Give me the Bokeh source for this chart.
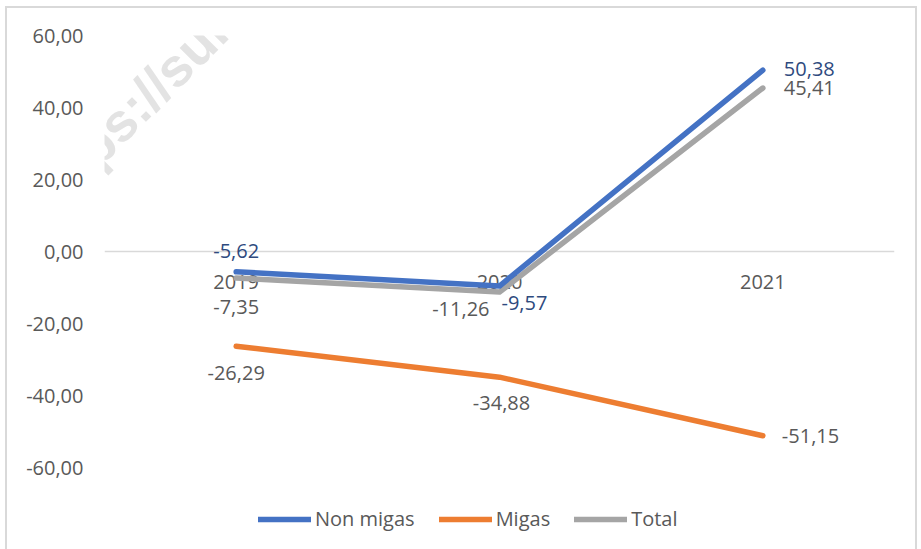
import math

from bokeh.core.properties import value
from bokeh.embed import file_html
from bokeh.models import (ColumnDataSource, FactorRange, FixedTicker, Label,
                          Legend, LegendItem, Range1d, Span)
from bokeh.plotting import figure
from bokeh.resources import INLINE

# Growth (%) per year
years = ["2019", "2020", "2021"]
non_migas = [-5.62, -9.57, 50.38]
migas = [-26.29, -34.88, -51.15]
total = [-7.35, -11.26, 45.41]
y_ticks = [-60, -40, -20, 0, 20, 40, 60]

BLUE = "#4472C4"
ORANGE = "#ED7D31"
GREY = "#A5A5A5"
TEXT = "#595959"
FONT = "Open Sans"


def fmt(v):
    return f"{v:.2f}".replace(".", ",")


# the frame runs down to the bottom edge so the legend can sit inside it
p = figure(
    width=912, height=543,
    x_range=FactorRange(*years, range_padding=0),
    y_range=Range1d(-83.3, 60),
    x_axis_location=None,
    output_backend="svg", toolbar_location=None,
    min_border_left=97, min_border_right=25,
    min_border_top=27, min_border_bottom=0,
)
p.styles = {"margin-left": "5px", "margin-top": "6px",
            "border": "2px solid #D9D9D9", "border-bottom": "none"}
p.outline_line_color = None
p.background_fill_color = None
p.border_fill_color = None
p.xgrid.visible = False
p.ygrid.visible = False

# watermark
p.add_layout(Label(
    x=-69, y=346, x_units="screen", y_units="screen",
    text="https://sulsel.bps.go.id", angle=math.radians(45),
    text_font="Liberation Sans", text_font_style="bold",
    text_font_size="54px", text_color="#E3E3E3",
    text_align="left", text_baseline="alphabetic", level="underlay",
))

# y axis: labels only
yax = p.yaxis[0]
yax.ticker = FixedTicker(ticks=y_ticks)
yax.major_label_overrides = {t: fmt(t) for t in y_ticks}
yax.axis_line_color = None
yax.major_tick_line_color = None
yax.minor_tick_line_color = None
yax.major_label_text_font = FONT
yax.major_label_text_font_size = "20px"
yax.major_label_text_color = TEXT
yax.major_label_standoff = 15

# horizontal category axis along zero
p.add_layout(Span(location=0, dimension="width",
                  line_color="#D9D9D9", line_width=1.5, level="underlay"))
p.text(x=years, y=[0] * len(years), text=years, y_offset=30,
       text_align="center", text_baseline="middle",
       text_font=value(FONT), text_font_size="20px", text_color=TEXT)

series = [
    ("Total", total, GREY),
    ("Migas", migas, ORANGE),
    ("Non migas", non_migas, BLUE),
]
renderers = {}
for name, vals, color in series:
    renderers[name] = p.line(years, vals, line_color=color, line_width=5.5,
                             line_cap="round", line_join="round")

# data labels: offsets (px, +y is down) and alignment per point
placement = {
    "Non migas": ([0, 2, 21], [-21, 17, -1], ["center", "left", "left"], "#2E4A7E"),
    "Total": ([0, -10, 21], [29, 17, 0], ["center", "right", "left"], TEXT),
    "Migas": ([0, 2, 19], [27, 26, 0], ["center", "center", "left"], TEXT),
}
for name, vals, _ in series:
    dx, dy, align, col = placement[name]
    src = ColumnDataSource(dict(x=years, y=vals, t=[fmt(v) for v in vals],
                                dx=dx, dy=dy, al=align))
    p.text("x", "y", text="t", source=src, x_offset="dx", y_offset="dy",
           text_align="al", text_baseline="middle",
           text_font=value(FONT), text_font_size="20px", text_color=col)

legend = Legend(
    items=[LegendItem(label=n, renderers=[renderers[n]])
           for n in ["Non migas", "Migas", "Total"]],
    location=(154, 19), orientation="horizontal",
    glyph_width=53, glyph_height=24, label_height=24,
    label_standoff=4, spacing=24, padding=0, margin=0,
    label_text_font=FONT, label_text_font_size="20px",
    label_text_color=TEXT, border_line_color=None,
    background_fill_alpha=0,
)
p.add_layout(legend)

open("out.html", "w").write(file_html(p, INLINE))
